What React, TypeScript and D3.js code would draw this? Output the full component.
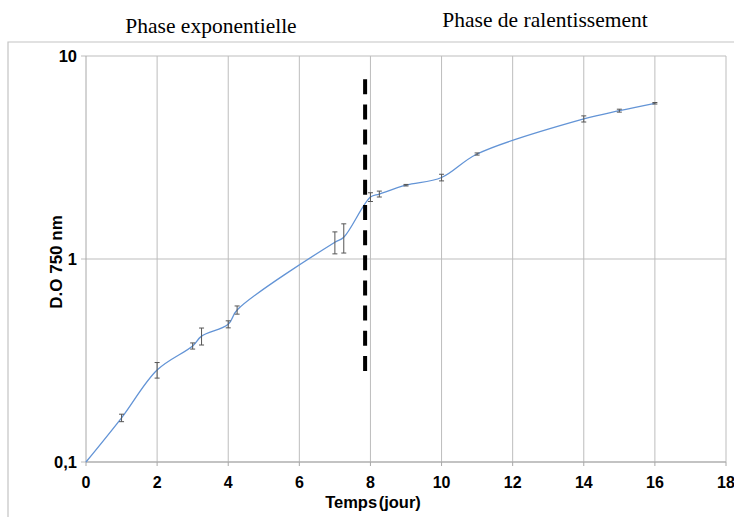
import React, { useEffect, useRef } from 'react';
import * as d3 from 'd3';

// growth curve, D.O 750 nm vs days
const days = [0, 1, 2, 3, 3.25, 4, 4.25, 7, 7.25, 8, 8.25, 9, 10, 11, 14, 15, 16];
const od = [0.1, 0.165, 0.284, 0.373, 0.417, 0.477, 0.561, 1.21, 1.28, 2.02, 2.09, 2.31, 2.52, 3.29, 4.9, 5.38, 5.85];
const odErr = [0, 0.007, 0.025, 0.013, 0.04, 0.019, 0.026, 0.15, 0.21, 0.1, 0.07, 0.02, 0.095, 0.04, 0.17, 0.09, 0.05];

const xTicks = [0, 2, 4, 6, 8, 10, 12, 14, 16, 18];
const yTicks = [0.1, 1, 10];
const yTickLabels = ['0,1', '1', '10'];

// phase boundary (dashed)
const phaseX = 7.85;
const phaseY = [0.28, 7.68];
const phaseTitles = ['Phase exponentielle', 'Phase de ralentissement'];

const W = 734;
const H = 517;

export default function App() {
  const svgRef = useRef<SVGSVGElement | null>(null);

  useEffect(() => {
    if (!svgRef.current) return;
    const svg = d3.select(svgRef.current);
    svg.selectAll('*').remove();

    const x = d3.scaleLinear().domain([0, 18]).range([86, 726]);
    const y = d3.scaleLog().domain([0.1, 10]).range([462, 56]);
    const bold = 'Liberation Sans, Arial, sans-serif';

    // outer frame (top + left)
    svg.append('path')
      .attr('d', `M8,${H} L8,42 L${W},42`)
      .attr('fill', 'none')
      .attr('stroke', '#c4c4c4')
      .attr('stroke-width', 1.2);

    // titles
    svg.append('text')
      .attr('x', 211).attr('y', 33)
      .attr('text-anchor', 'middle')
      .attr('font-family', 'Liberation Serif, Times New Roman, serif')
      .attr('font-size', 21.5)
      .text(phaseTitles[0]);
    svg.append('text')
      .attr('x', 545).attr('y', 27)
      .attr('text-anchor', 'middle')
      .attr('font-family', 'Liberation Serif, Times New Roman, serif')
      .attr('font-size', 21.5)
      .text(phaseTitles[1]);

    // grid
    const grid = svg.append('g').attr('stroke', '#bdbdbd').attr('stroke-width', 1);
    grid.selectAll('line.v')
      .data(xTicks.slice(1))
      .join('line')
      .attr('x1', (d) => x(d)).attr('x2', (d) => x(d))
      .attr('y1', y(10)).attr('y2', y(0.1));
    grid.selectAll('line.h')
      .data(yTicks)
      .join('line')
      .attr('x1', 81).attr('x2', x(18))
      .attr('y1', (d) => y(d)).attr('y2', (d) => y(d));

    // axes lines
    svg.append('line')
      .attr('x1', x(0)).attr('x2', x(0))
      .attr('y1', y(10)).attr('y2', y(0.1))
      .attr('stroke', '#a8a8a8');
    svg.append('line')
      .attr('x1', x(0)).attr('x2', x(18))
      .attr('y1', y(0.1)).attr('y2', y(0.1))
      .attr('stroke', '#a8a8a8');
    svg.selectAll('line.xt')
      .data(xTicks)
      .join('line')
      .attr('x1', (d) => x(d)).attr('x2', (d) => x(d))
      .attr('y1', y(0.1)).attr('y2', y(0.1) + 4)
      .attr('stroke', '#a8a8a8');

    // tick labels
    svg.selectAll('text.xl')
      .data(xTicks)
      .join('text')
      .attr('x', (d) => x(d))
      .attr('y', 488)
      .attr('text-anchor', 'middle')
      .attr('font-family', bold)
      .attr('font-weight', 'bold')
      .attr('font-size', 16)
      .text((d) => String(d));
    svg.selectAll('text.yl')
      .data(yTicks)
      .join('text')
      .attr('x', 77)
      .attr('y', (d) => y(d) + 6)
      .attr('text-anchor', 'end')
      .attr('font-family', bold)
      .attr('font-weight', 'bold')
      .attr('font-size', 16.5)
      .text((d, i) => yTickLabels[i]);

    // axis titles
    svg.append('text')
      .attr('x', 373).attr('y', 508)
      .attr('text-anchor', 'middle')
      .attr('font-family', bold)
      .attr('font-weight', 'bold')
      .attr('font-size', 16.5)
      .attr('word-spacing', -3)
      .text('Temps (jour)');
    svg.append('text')
      .attr('transform', `translate(62,262) rotate(-90)`)
      .attr('text-anchor', 'middle')
      .attr('font-family', bold)
      .attr('font-weight', 'bold')
      .attr('font-size', 17)
      .text('D.O 750 nm');

    // curve
    const pts = days.map((d, i) => [x(d), y(od[i])] as [number, number]);
    svg.append('path')
      .attr('d', d3.line().curve(d3.curveCatmullRom.alpha(0.5))(pts))
      .attr('fill', 'none')
      .attr('stroke', '#6394d6')
      .attr('stroke-width', 1.3);

    // error bars
    const eb = svg.append('g').attr('stroke', '#555').attr('stroke-width', 1);
    days.forEach((d, i) => {
      if (!odErr[i]) return;
      const cx = x(d);
      const top = y(od[i] + odErr[i]);
      const bot = y(od[i] - odErr[i]);
      eb.append('line').attr('x1', cx).attr('x2', cx).attr('y1', top).attr('y2', bot);
      eb.append('line').attr('x1', cx - 2.5).attr('x2', cx + 2.5).attr('y1', top).attr('y2', top);
      eb.append('line').attr('x1', cx - 2.5).attr('x2', cx + 2.5).attr('y1', bot).attr('y2', bot);
    });

    // phase separator
    svg.append('line')
      .attr('x1', x(phaseX)).attr('x2', x(phaseX))
      .attr('y1', y(phaseY[1])).attr('y2', y(phaseY[0]))
      .attr('stroke', '#000')
      .attr('stroke-width', 4)
      .attr('stroke-dasharray', '15 10.15');
  }, []);

  return (
    <svg
      ref={svgRef}
      width={W}
      height={H}
      style={{ position: 'absolute', left: 0, top: 0, background: '#fff' }}
    />
  );
}
